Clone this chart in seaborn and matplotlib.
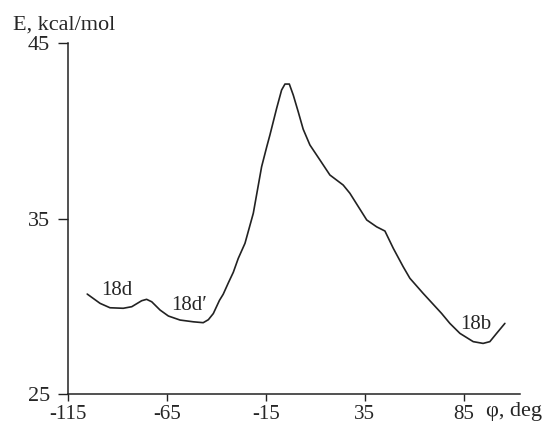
from matplotlib import pyplot as plt
import seaborn as sns
import pandas as pd

# torsion angle phi (deg) and energy E (kcal/mol)
phi = [-105.3, -98.8, -93.8, -87.1, -82.8, -77.8, -75.3, -72.7, -68.5, -64.3,
       -58.4, -51.7, -46.7, -44.1, -41.6, -38.5, -36.6, -34.0, -31.5, -29.0,
       -25.6, -21.4, -17.2, -14.6, -13.0, -9.6, -7.1, -5.4, -3.2, -1.2,
       1.3, 3.8, 7.2, 12.3, 17.3, 24.0, 27.4, 35.9, 40.9, 45.1,
       49.3, 54.3, 57.7, 64.4, 73.7, 77.9, 83.0, 89.7, 94.7, 98.1,
       101.5, 105.7]
energy = [30.71, 30.18, 29.93, 29.90, 29.99, 30.33, 30.41, 30.27, 29.80, 29.46,
          29.23, 29.13, 29.08, 29.25, 29.60, 30.35, 30.70, 31.35, 31.95, 32.74,
          33.60, 35.31, 37.96, 39.10, 39.77, 41.29, 42.33, 42.67, 42.67, 42.04,
          41.09, 40.10, 39.20, 38.34, 37.49, 36.92, 36.45, 34.93, 34.54, 34.30,
          33.32, 32.27, 31.61, 30.75, 29.61, 29.04, 28.47, 28.00, 27.90, 28.00,
          28.47, 29.04]

xticks = [-115, -65, -15, 35, 85]
yticks = [25, 35, 45]

# conformer labels: text, phi, E
labels = ['18d', "18d\u2032", '18b']
label_phi = [-90.3, -53.9, 91.1]
label_e = [30.93, 30.06, 28.95]

sns.set_style('ticks')
plt.rcParams['font.family'] = ['Liberation Serif', 'DejaVu Serif']

df = pd.DataFrame({'phi': phi, 'E': energy})

fig = plt.figure(figsize=(5.45, 4.23), dpi=100)
ax = fig.add_axes([0.1248, 0.0678, 0.954 - 0.1248, 0.898 - 0.0678])

sns.lineplot(x='phi', y='E', data=df, sort=False, color='#222222', linewidth=1.2, ax=ax)

for t, x, y in zip(labels, label_phi, label_e):
    ax.text(x, y, t, fontsize=15, ha='center', va='center')

ax.set_xlim(-115, 113.3)
ax.set_ylim(25, 45)
ax.set_xticks(xticks)
ax.set_yticks(yticks)
ax.set_xticklabels([str(v) for v in xticks])
ax.set_yticklabels([str(v) for v in yticks])
ax.tick_params(axis='x', labelsize=15, length=5, width=1, color='#222222', pad=3)
ax.tick_params(axis='y', labelsize=16, length=7, width=1, color='#222222', pad=6)
ax.set_xlabel('')
ax.set_ylabel('')
sns.despine(ax=ax)
for s in ['left', 'bottom']:
    ax.spines[s].set_linewidth(1.1)
    ax.spines[s].set_color('#222222')

fig.text(13 / 545, 1 - 30 / 423, 'E, kcal/mol', fontsize=16, va='baseline', ha='left')
fig.text(486 / 545, 1 - 416 / 423, '\u03c6, deg', fontsize=16, va='baseline', ha='left')

fig.savefig('out.png', dpi=100)
